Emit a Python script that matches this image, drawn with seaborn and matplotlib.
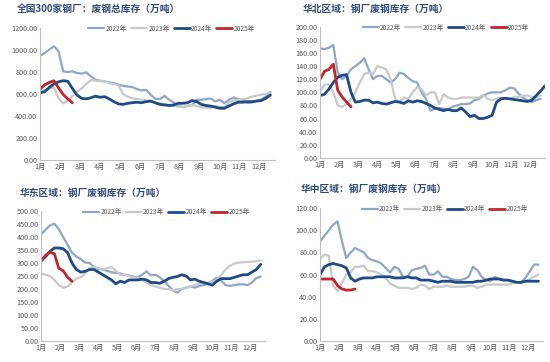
import pandas as pd
import matplotlib.pyplot as plt
import seaborn as sns

sns.set_theme(style="white")
plt.rcParams['font.family'] = ['Noto Sans CJK SC', 'DejaVu Sans']

years = ["2022年", "2023年", "2024年", "2025年"]
months = ["1月", "2月", "3月", "4月", "5月", "6月", "7月", "8月", "9月", "10月", "11月", "12月"]

# 全国300家钢厂 废钢总库存 (weekly)
nat_2022 = [948, 972, 1003, 1033, 987, 805, 799, 805, 790, 784, 796, 760, 729, 720, 714, 705, 699,
            684, 674, 668, 662, 644, 632, 638, 593, 556, 553, 583, 547, 522, 492, 480, 492, 498, 547,
            547, 553, 559, 532, 547, 517, 547, 568, 553, 547, 517, 522, 538, 547, 577, 617]
nat_2023 = [620, 635, 650, 660, 560, 515, 540, 580, 620, 650, 690, 725, 720, 718, 712, 700, 690,
            680, 600, 575, 560, 555, 550, 540, 535, 520, 515, 510, 500, 490, 485, 480, 490, 500, 490,
            480, 475, 470, 490, 480, 480, 520, 540, 545, 550, 560, 575, 585, 595, 600, 605]
nat_2024 = [610, 620, 660, 690, 710, 720, 715, 650, 590, 560, 555, 565, 580, 570, 575, 555, 530,
            510, 505, 515, 520, 525, 520, 530, 535, 520, 505, 500, 495, 500, 515, 515, 520, 540, 530,
            505, 495, 490, 480, 470, 470, 490, 510, 525, 525, 530, 530, 535, 540, 560, 590]
nat_2025 = [645, 683, 705, 720, 655, 595, 555, 520]

# 华北区域
nc_2022 = [167, 166, 168, 172, 130, 120, 125, 135, 140, 145, 152, 135, 120, 125, 125, 120, 115,
           120, 130, 128, 122, 117, 115, 100, 90, 72, 75, 76, 75, 74, 78, 80, 82, 82, 83, 88, 90,
           95, 98, 100, 100, 100, 103, 107, 106, 98, 92, 88, 85, 88, 90]
nc_2023 = [100, 112, 112, 100, 80, 78, 82, 90, 100, 115, 128, 130, 128, 140, 138, 135, 120, 90,
           85, 92, 90, 100, 108, 105, 95, 100, 100, 82, 97, 92, 90, 90, 92, 92, 92, 92, 92, 96, 90,
           88, 90, 92, 90, 90, 93, 93, 95, 95, 93, 92, 95]
nc_2024 = [95, 97, 105, 115, 123, 126, 127, 100, 85, 86, 88, 88, 84, 85, 83, 82, 84, 86, 85, 83,
           87, 85, 87, 86, 83, 80, 76, 74, 72, 74, 72, 72, 76, 70, 63, 65, 60, 60, 62, 65, 85, 90,
           91, 90, 89, 88, 87, 86, 88, 95, 102, 110]
nc_2025 = [120, 132, 135, 143, 103, 93, 85, 78]

# 华东区域
ec_2022 = [412, 428, 445, 451, 430, 400, 370, 340, 325, 315, 302, 300, 285, 278, 275, 270, 265,
           262, 260, 255, 252, 248, 245, 255, 268, 252, 255, 245, 230, 212, 195, 186, 200, 205, 210,
           205, 212, 215, 222, 232, 244, 232, 215, 212, 215, 218, 218, 215, 225, 242, 248]
ec_2023 = [260, 255, 250, 235, 215, 205, 210, 225, 240, 245, 260, 280, 285, 280, 275, 280, 285,
           270, 255, 255, 250, 245, 245, 235, 225, 215, 210, 205, 200, 200, 195, 200, 200, 205, 210,
           215, 220, 222, 225, 228, 235, 255, 275, 290, 298, 302, 303, 304, 305, 307, 310]
ec_2024 = [310, 325, 345, 358, 358, 355, 340, 300, 275, 265, 268, 275, 275, 265, 255, 245, 235,
           220, 230, 225, 235, 235, 235, 238, 235, 225, 225, 222, 230, 240, 245, 248, 255, 250, 235,
           238, 230, 225, 220, 215, 230, 240, 240, 240, 245, 250, 255, 255, 265, 275, 295]
ec_2025 = [308, 330, 342, 335, 280, 270, 245, 230]

# 华中区域
cc_2022 = [90, 95, 100, 105, 108, 90, 75, 80, 84, 82, 80, 75, 73, 72, 70, 66, 62, 67, 65, 58, 58,
           64, 65, 66, 68, 60, 60, 63, 58, 58, 56, 55, 55, 56, 58, 67, 64, 58, 55, 54, 58, 56, 55,
           55, 54, 53, 53, 57, 63, 69, 69]
cc_2023 = [74, 78, 77, 50, 45, 52, 60, 62, 67, 67, 68, 63, 63, 62, 60, 57, 52, 50, 48, 48, 48, 47,
           48, 51, 50, 47, 49, 49, 49, 50, 49, 49, 49, 49, 50, 50, 48, 49, 51, 51, 51, 51, 51, 51,
           52, 53, 53, 54, 56, 58, 60]
cc_2024 = [60, 67, 69, 70, 69, 68, 66, 57, 54, 56, 57, 57, 57, 58, 58, 58, 58, 57, 57, 57, 58, 57,
           57, 55, 55, 55, 54, 53, 54, 54, 54, 53, 53, 53, 53, 53, 54, 54, 55, 56, 56, 56, 55, 55,
           54, 53, 53, 54, 54, 54, 54]
cc_2025 = [56, 56, 56, 56, 50, 47, 46, 46, 47]

panels = [
    ("全国300家钢厂：废钢总库存（万吨）", [nat_2022, nat_2023, nat_2024, nat_2025], 1200, 200),
    ("华北区域：钢厂废钢库存（万吨）", [nc_2022, nc_2023, nc_2024, nc_2025], 200, 20),
    ("华东区域：钢厂废钢库存（万吨）", [ec_2022, ec_2023, ec_2024, ec_2025], 500, 50),
    ("华中区域：钢厂废钢库存（万吨）", [cc_2022, cc_2023, cc_2024, cc_2025], 120, 20),
]

palette = {"2022年": "#8DA7C9", "2023年": "#C9C9C9", "2024年": "#1E4A87", "2025年": "#C0262C"}
widths = {"2022年": 1.6, "2023年": 1.6, "2024年": 2.0, "2025年": 2.0}

axes_pos = [
    [0.073, 0.558, 0.427, 0.365],
    [0.582, 0.564, 0.409, 0.362],
    [0.075, 0.058, 0.407, 0.359],
    [0.582, 0.058, 0.405, 0.367],
]
title_pos = [(0.03, 0.99), (0.55, 0.99), (0.036, 0.482), (0.546, 0.492)]

fig = plt.figure(figsize=(5.5, 3.62), dpi=100)

for (title, series, ymax, ystep), pos, tpos in zip(panels, axes_pos, title_pos):
    ax = fig.add_axes(pos)
    rows = []
    for yr, vals in zip(years, series):
        for w, v in enumerate(vals):
            rows.append({"week": w, "value": v, "year": yr})
    df = pd.DataFrame(rows)
    for yr in years:
        sub = df[df["year"] == yr]
        sns.lineplot(data=sub, x="week", y="value", color=palette[yr], lw=widths[yr],
                     label=yr, ax=ax)
    ax.set_xlim(0, 51)
    ax.set_ylim(0, ymax)
    ax.set_xticks([i * 4.33 for i in range(12)])
    ax.set_xticklabels(months)
    yt = list(range(0, ymax + 1, ystep))
    ax.set_yticks(yt)
    ax.set_yticklabels([f"{t:.2f}" for t in yt])
    ax.tick_params(axis="both", labelsize=5.2, colors="#555555", length=0, pad=2)
    ax.set_xlabel("")
    ax.set_ylabel("")
    for s in ["top", "right"]:
        ax.spines[s].set_visible(False)
    for s in ["left", "bottom"]:
        ax.spines[s].set_color("#BFBFBF")
        ax.spines[s].set_linewidth(0.8)
    ax.legend(loc="upper center", bbox_to_anchor=(0.56, 1.07), ncol=4, frameon=False,
              fontsize=4.8, handlelength=2.4, columnspacing=0.6, handletextpad=0.2,
              labelcolor="#555555")
    fig.text(tpos[0], tpos[1], title, fontsize=7, fontweight="bold", color="#2E4A7A",
             ha="left", va="top")

fig.savefig("out.png", dpi=100)
